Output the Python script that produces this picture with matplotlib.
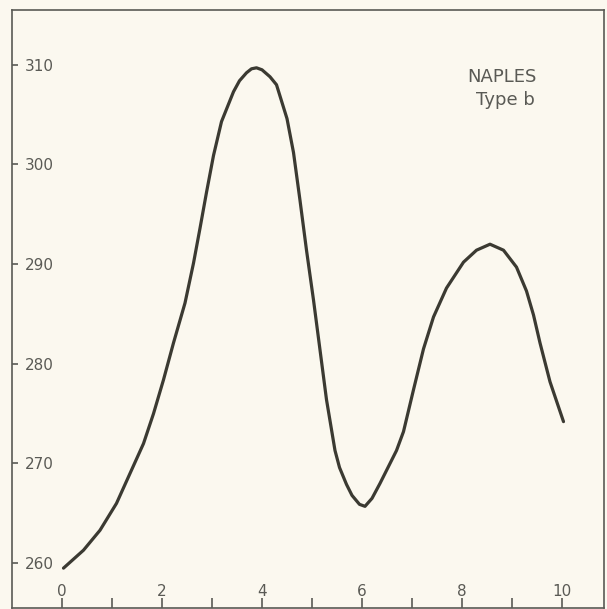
import matplotlib
matplotlib.use('Agg')
import matplotlib.pyplot as plt

# values (NAPLES, type b)
x_vals = [0.03, 0.43, 0.76, 1.09, 1.36, 1.63, 1.83, 2.03, 2.23, 2.46, 2.63,
          2.76, 2.89, 3.03, 3.19, 3.43, 3.55, 3.69, 3.79, 3.89, 4.0, 4.16,
          4.29, 4.5, 4.63, 4.76, 4.89, 5.03, 5.16, 5.29, 5.46, 5.55, 5.69,
          5.8, 5.95, 6.06, 6.2, 6.36, 6.53, 6.69, 6.83, 7.03, 7.23, 7.43,
          7.69, 8.03, 8.29, 8.56, 8.83, 9.09, 9.29, 9.43, 9.56, 9.76, 10.03]
y_vals = [259.5, 261.3, 263.3, 266.0, 269.0, 272.0, 275.0, 278.4, 282.1,
          286.1, 290.1, 293.6, 297.2, 300.9, 304.3, 307.3, 308.4, 309.2,
          309.6, 309.7, 309.5, 308.8, 308.0, 304.6, 301.2, 296.4, 291.4,
          286.4, 281.4, 276.4, 271.3, 269.6, 267.9, 266.8, 265.9, 265.7,
          266.5, 268.0, 269.7, 271.3, 273.2, 277.4, 281.5, 284.7, 287.6,
          290.2, 291.4, 292.0, 291.4, 289.7, 287.3, 284.9, 282.1, 278.2,
          274.2]

x_major = [0, 2, 4, 6, 8, 10]
x_minor = [1, 3, 5, 7, 9]
y_major = [260, 270, 280, 290, 300, 310]

paper = '#fbf8ef'
ink = '#3b3a32'
grey = '#5a5a55'

plt.rcParams['font.family'] = ['DejaVu Sans']

fig = plt.figure(figsize=(6.07, 6.09), dpi=100, facecolor=paper)
ax = fig.add_axes([12 / 607, 1 / 609, 592 / 607, 598 / 609])
ax.set_facecolor(paper)

ax.plot(x_vals, y_vals, color=ink, lw=2.3, solid_capstyle='round',
        solid_joinstyle='round')

ax.set_xlim(-1.0, 10.84)
ax.set_ylim(255.5, 315.5)

ax.set_xticks(x_major)
ax.set_xticks(x_minor, minor=True)
ax.set_yticks(y_major)
ax.tick_params(axis='x', which='both', direction='in', length=7, width=1.2,
               color=grey, labelcolor=grey, labelsize=11, pad=-17)
ax.tick_params(axis='y', direction='in', length=4, width=1.2,
               color=grey, labelcolor=grey, labelsize=11, pad=-9.5)
for lab in ax.get_yticklabels():
    lab.set_horizontalalignment('left')

for sp in ax.spines.values():
    sp.set_color(grey)
    sp.set_linewidth(1.2)

ax.text(0.828, 0.888, 'NAPLES', transform=ax.transAxes, ha='center',
        va='center', fontsize=13, color=grey)
ax.text(0.833, 0.85, 'Type b', transform=ax.transAxes, ha='center',
        va='center', fontsize=13, color=grey)

fig.savefig('out.png', dpi=100, facecolor=paper)
